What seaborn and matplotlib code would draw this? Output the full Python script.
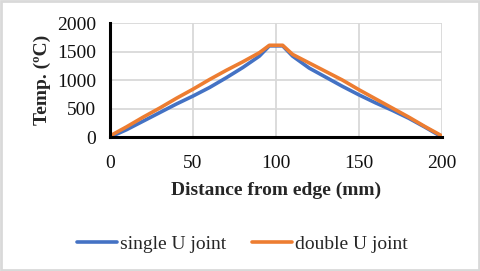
import matplotlib
matplotlib.use("Agg")
import matplotlib.pyplot as plt
import seaborn as sns
import pandas as pd
from matplotlib.patches import Rectangle
from matplotlib.lines import Line2D

distance = [0, 10, 20, 30, 40, 50, 60, 70, 80, 90, 96, 104, 110, 120, 130, 140, 150, 160, 170, 180, 190, 200]
single_u = [0, 130, 280, 430, 580, 720, 870, 1040, 1220, 1420, 1600, 1600, 1420, 1210, 1050, 890, 740, 600, 470, 330, 170, 0]
double_u = [20, 180, 350, 510, 680, 840, 1010, 1170, 1320, 1480, 1610, 1610, 1450, 1300, 1150, 1000, 830, 670, 510, 350, 180, 20]
x_ticks = [0, 50, 100, 150, 200]
y_ticks = [0, 500, 1000, 1500, 2000]

df = pd.DataFrame({
    "Distance": distance * 2,
    "Temp": single_u + double_u,
    "Series": ["single U joint"] * len(distance) + ["double U joint"] * len(distance),
})

sns.set_theme(style="white")
plt.rcParams['font.family'] = ['Liberation Serif', 'DejaVu Serif']

fig = plt.figure(figsize=(4.8, 2.71), dpi=100)
ax = fig.add_axes([0.229, 0.494, 0.692, 0.421])
sns.lineplot(data=df, x="Distance", y="Temp", hue="Series",
             palette={"single U joint": "#4472C4", "double U joint": "#ED7D31"},
             linewidth=2.6, ax=ax, legend=False)

ax.set_xlim(0, 200)
ax.set_ylim(0, 2000)
ax.set_xticks(x_ticks)
ax.set_yticks(y_ticks)
ax.tick_params(axis='x', length=0, labelsize=14, colors='#111111', pad=13)
ax.tick_params(axis='y', length=0, labelsize=14, colors='#111111', pad=10)
ax.grid(True, color='#d9d9d9', linewidth=1.3)
ax.set_axisbelow(True)
for s in ['top', 'right']:
    ax.spines[s].set_visible(False)
for s in ['left', 'bottom']:
    ax.spines[s].set_color('black')
    ax.spines[s].set_linewidth(2.2)
ax.set_xlabel("Distance from edge (mm)", fontsize=14, fontweight='bold', labelpad=7)
ax.set_ylabel("Temp. (ºC)", fontsize=14, fontweight='bold', labelpad=4)

handles = [Line2D([], [], color="#4472C4", linewidth=2.6),
           Line2D([], [], color="#ED7D31", linewidth=2.6)]
fig.legend(handles, ["single U joint", "double U joint"], loc='center',
           bbox_to_anchor=(0.505, 0.1), ncol=2, frameon=False, fontsize=14,
           handlelength=2.05, handletextpad=0.15, columnspacing=1.3)

fig.patches.append(Rectangle((0.003, 0.005), 0.994, 0.99, transform=fig.transFigure,
                             fill=False, edgecolor='#d9d9d9', linewidth=2))
fig.savefig("out.png", dpi=100)
